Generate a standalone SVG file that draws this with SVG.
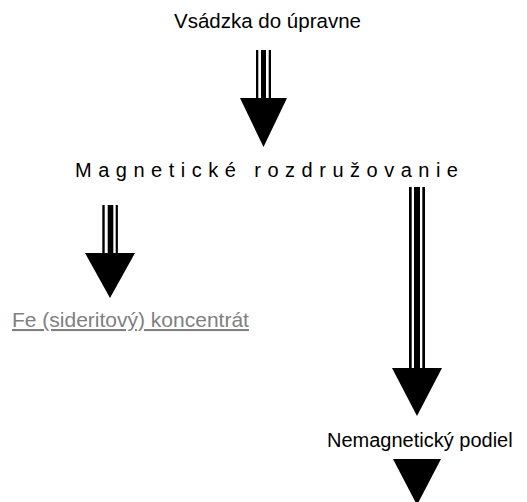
<svg xmlns="http://www.w3.org/2000/svg" width="527" height="502" viewBox="0 0 527 502">
  <style>
    .lbl { font-family: "Liberation Sans", Arial, sans-serif; font-size: 20px; fill: #000; }
    .link { fill: #808080; text-decoration: underline; font-size: 21px; }
    .spaced { letter-spacing: 6.5px; }
    .arrow { fill: #000; stroke: none; }
  </style>
  <rect width="527" height="502" fill="#fff"/>

  <g id="feed">
    <text class="lbl" x="267.5" y="28" text-anchor="middle" style="font-size:20.5px">Vsádzka do úpravne</text>
  </g>
  <g id="separation">
    <text class="lbl spaced" x="75" y="177">Magnetické rozdružovanie</text>
  </g>
  <g id="concentrate">
    <text class="lbl link" x="12" y="327">Fe (sideritový) koncentrát</text>
  </g>
  <g id="nonmagnetic">
    <text class="lbl" x="327" y="447">Nemagnetický podiel</text>
  </g>

  <g id="connectors" class="arrow">
    <!-- feed -> separation -->
    <rect x="256" y="50" width="2.3" height="48"/>
    <rect x="261" y="50" width="5" height="48"/>
    <rect x="268.7" y="50" width="2.3" height="48"/>
    <polygon points="240,98 287,98 263.5,147"/>
    <!-- separation -> concentrate -->
    <rect x="102.3" y="205" width="2.4" height="48"/>
    <rect x="107.7" y="205" width="5.6" height="48"/>
    <rect x="115.7" y="205" width="2.2" height="48"/>
    <polygon points="85,253 135,253 110,298"/>
    <!-- separation -> non-magnetic fraction -->
    <rect x="409" y="187" width="2.7" height="181"/>
    <rect x="414" y="187" width="6" height="181"/>
    <rect x="422.3" y="187" width="2.7" height="181"/>
    <polygon points="392,368 442,368 417,416"/>
    <!-- non-magnetic fraction onward -->
    <polygon points="393,459 441,459 417,505"/>
  </g>
</svg>
